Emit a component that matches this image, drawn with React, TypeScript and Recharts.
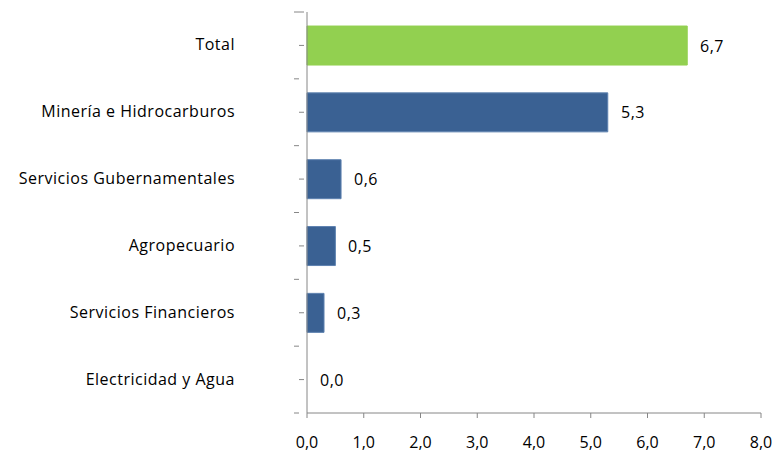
import { BarChart, Bar, XAxis, YAxis, Cell, LabelList } from 'recharts';

const sectores = [
  'Total',
  'Minería e Hidrocarburos',
  'Servicios Gubernamentales',
  'Agropecuario',
  'Servicios Financieros',
  'Electricidad y Agua',
];
const aportes = [6.7, 5.3, 0.6, 0.5, 0.3, 0.0];
const xTicks = [0, 1, 2, 3, 4, 5, 6, 7, 8];
const titulo = '(En puntos porcentuales)';

const data = sectores.map((s, i) => ({ sector: s, valor: aportes[i] }));

const FONT = '"Open Sans", sans-serif';
const AXIS = '#868686';

const fmt = (v: number) => v.toFixed(1).replace('.', ',');

const YTick = (props: any) => {
  const { x, y, payload, index } = props;
  const half = payload && payload.offset ? payload.offset : 33.4;
  return (
    <g>
      <line x1={x} y1={y} x2={x + 5} y2={y} stroke={AXIS} />
      <line x1={x - 5} y1={y - half} x2={x} y2={y - half} stroke={AXIS} />
      {index === 0 && <line x1={x} y1={y - half} x2={x + 5} y2={y - half} stroke={AXIS} />}
      {index === sectores.length - 1 && <line x1={x - 5} y1={y + half} x2={x} y2={y + half} stroke={AXIS} />}
      <text x={235} y={y} dy={5} textAnchor="end" fontFamily={FONT} fontSize={16} letterSpacing={0.5} fill="#000">
        {payload.value}
      </text>
    </g>
  );
};

const XTick = (props: any) => {
  const { x, y, payload } = props;
  return (
    <text x={x} y={y} dy={11} textAnchor="middle" fontFamily={FONT} fontSize={16} fill="#000">
      {fmt(Number(payload.value))}
    </text>
  );
};

const ValueLabel = (props: any) => {
  const { x, y, width, height, value } = props;
  return (
    <text
      x={Number(x) + Math.round(Number(width || 0)) + 13}
      y={Number(y) + Number(height) / 2}
      dy={6}
      fontFamily={FONT}
      fontSize={16}
      letterSpacing={0.5}
      fill="#000"
    >
      {fmt(Number(value))}
    </text>
  );
};

export default function App() {
  return (
    <div style={{ position: 'absolute', left: 0, top: 0, width: 776, height: 454 }}>
      <BarChart
        width={776}
        height={454}
        data={data}
        layout="vertical"
        margin={{ top: 12, right: 15, bottom: 11, left: 0 }}
        barCategoryGap="21%"
      >
        <text x={445} y={-4} textAnchor="middle" fontFamily={FONT} fontSize={16} fontWeight="bold" fill="#000">
          {titulo}
        </text>
        <XAxis
          type="number"
          domain={[0, 8]}
          ticks={xTicks}
          interval={0}
          stroke={AXIS}
          tickSize={5}
          tickMargin={19}
          height={30}
          tick={<XTick />}
        />
        <YAxis
          type="category"
          dataKey="sector"
          width={307}
          stroke={AXIS}
          tickLine={false}
          interval={0}
          tick={<YTick />}
        />
        <Bar dataKey="valor" isAnimationActive={false} minPointSize={0.01}>
          {data.map((d, i) => (
            <Cell
              key={d.sector}
              fill={d.valor === 0 ? 'none' : i === 0 ? '#92D050' : '#3A6193'}
              stroke={d.valor === 0 ? 'none' : i === 0 ? '#92D050' : '#5E82B0'}
            />
          ))}
          <LabelList dataKey="valor" content={<ValueLabel />} />
        </Bar>
      </BarChart>
    </div>
  );
}
